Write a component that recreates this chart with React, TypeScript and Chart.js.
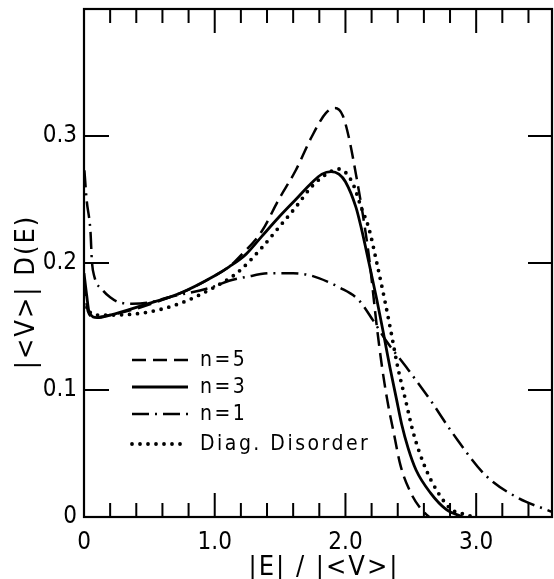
import React, { useEffect, useRef } from 'react';
import { Chart, registerables } from 'chart.js';

Chart.register(...registerables);

// ---- Data ----
const n5X = [0, 0.03, 0.08, 0.2, 0.4, 0.6, 0.8, 1.0, 1.11, 1.2, 1.36, 1.49, 1.62, 1.74, 1.85, 1.92, 1.98, 2.03, 2.08, 2.13, 2.18, 2.24, 2.28, 2.32, 2.37, 2.42, 2.5, 2.58, 2.64];
const n5Y = [0.185, 0.162, 0.157, 0.159, 0.164, 0.171, 0.179, 0.19, 0.197, 0.206, 0.225, 0.25, 0.273, 0.299, 0.318, 0.322, 0.316, 0.297, 0.27, 0.24, 0.205, 0.15, 0.118, 0.092, 0.066, 0.041, 0.019, 0.006, 0.0];

const n3X = [0, 0.02, 0.04, 0.1, 0.2, 0.46, 0.73, 1.0, 1.11, 1.24, 1.36, 1.49, 1.62, 1.74, 1.82, 1.89, 1.95, 2.0, 2.08, 2.12, 2.18, 2.24, 2.29, 2.34, 2.39, 2.43, 2.48, 2.54, 2.65, 2.77, 2.9];
const n3Y = [0.192, 0.175, 0.161, 0.157, 0.159, 0.167, 0.176, 0.19, 0.197, 0.207, 0.221, 0.236, 0.25, 0.263, 0.27, 0.272, 0.27, 0.264, 0.244, 0.228, 0.2, 0.171, 0.145, 0.118, 0.093, 0.073, 0.054, 0.037, 0.019, 0.006, 0.0];

const n1X = [0.003, 0.02, 0.05, 0.06, 0.08, 0.14, 0.2, 0.27, 0.37, 0.5, 0.65, 0.98, 1.11, 1.24, 1.44, 1.6, 1.74, 1.87, 1.95, 2.1, 2.21, 2.31, 2.48, 2.65, 2.82, 3.07, 3.32, 3.53, 3.58];
const n1Y = [0.273, 0.25, 0.224, 0.202, 0.189, 0.179, 0.173, 0.169, 0.168, 0.169, 0.173, 0.181, 0.186, 0.189, 0.192, 0.192, 0.19, 0.185, 0.181, 0.171, 0.155, 0.139, 0.116, 0.092, 0.066, 0.033, 0.015, 0.006, 0.004];

const diagX = [0, 0.09, 0.2, 0.47, 0.73, 0.98, 1.18, 1.36, 1.49, 1.62, 1.74, 1.87, 1.95, 2.05, 2.12, 2.18, 2.24, 2.3, 2.35, 2.4, 2.46, 2.52, 2.61, 2.71, 2.81, 2.92, 2.98];
const diagY = [0.165, 0.159, 0.159, 0.161, 0.168, 0.18, 0.193, 0.212, 0.228, 0.244, 0.26, 0.271, 0.274, 0.264, 0.244, 0.227, 0.2, 0.171, 0.145, 0.118, 0.092, 0.066, 0.039, 0.019, 0.006, 0.002, 0.0];

const seriesLabels = ['n=5', 'n=3', 'n=1', 'Diag. Disorder'];

const xTickValues = [0, 1, 2, 3];
const xTickLabels = ['0', '1.0', '2.0', '3.0'];
const yTickValues = [0, 0.1, 0.2, 0.3];
const yTickLabels = ['0', '0.1', '0.2', '0.3'];
const xMinorStep = 0.2;

const xTitle = '|E| / |<V>|';
const yTitle = '|<V>| D(E)';

// ---- Styles ----
const FONT = "'Liberation Sans Narrow', 'DejaVu Sans Condensed', 'Liberation Sans', sans-serif";
const INK = '#000';
const dashStyles = [
  { dash: [14, 7], cap: 'butt', width: 2.5 },
  { dash: [], cap: 'butt', width: 2.8 },
  { dash: [17, 6, 2, 6], cap: 'butt', width: 2.5 },
  { dash: [0, 8], cap: 'round', width: 3.8 },
];

const pts = (xs: number[], ys: number[]) => xs.map((x, i) => ({ x, y: ys[i] }));

const framePlugin = {
  id: 'frameAndDecor',
  afterDraw(chart: any) {
    const { ctx, chartArea: ca, scales } = chart;
    const xs = scales.x;
    const ys = scales.y;
    ctx.save();
    ctx.strokeStyle = INK;
    ctx.fillStyle = INK;
    ctx.setLineDash([]);
    // frame
    ctx.lineWidth = 2.2;
    ctx.strokeRect(ca.left, ca.top, ca.right - ca.left, ca.bottom - ca.top);
    // x ticks (bottom & top), inward
    ctx.lineWidth = 2;
    const xMax = xs.max;
    for (let k = 0; k * xMinorStep <= xMax + 1e-9; k++) {
      const v = k * xMinorStep;
      const major = Math.abs(v - Math.round(v)) < 1e-6;
      const px = xs.getPixelForValue(v);
      const len = major ? 24 : 14;
      ctx.beginPath();
      ctx.moveTo(px, ca.bottom);
      ctx.lineTo(px, ca.bottom - len);
      ctx.moveTo(px, ca.top);
      ctx.lineTo(px, ca.top + len);
      ctx.stroke();
    }
    // y ticks (left & right), inward
    for (const v of yTickValues) {
      const py = ys.getPixelForValue(v);
      ctx.beginPath();
      ctx.moveTo(ca.left, py);
      ctx.lineTo(ca.left + 25, py);
      ctx.moveTo(ca.right, py);
      ctx.lineTo(ca.right - 24, py);
      ctx.stroke();
    }
    // axis titles
    ctx.font = `27px ${FONT}`;
    (ctx as any).letterSpacing = '2px';
    ctx.textAlign = 'center';
    ctx.textBaseline = 'middle';
    ctx.fillText(xTitle, ca.left + 240, ca.bottom + 51);
    ctx.save();
    ctx.translate(27, ca.top + 283);
    ctx.rotate(-Math.PI / 2);
    ctx.fillText(yTitle, 0, 0);
    ctx.restore();

    // legend
    ctx.font = `21px ${FONT}`;
    (ctx as any).letterSpacing = '2.5px';
    ctx.textAlign = 'left';
    ctx.textBaseline = 'middle';
    const rows = [351, 378, 405, 435];
    seriesLabels.forEach((lab, i) => {
      const y = ca.top + rows[i];
      const st = dashStyles[i];
      ctx.save();
      ctx.lineWidth = st.width;
      ctx.lineCap = st.cap as CanvasLineCap;
      ctx.setLineDash(st.dash);
      ctx.beginPath();
      ctx.moveTo(ca.left + 48, y);
      ctx.lineTo(ca.left + 104, y);
      ctx.stroke();
      ctx.restore();
      ctx.fillText(lab, ca.left + 116, y + 1);
    });
    ctx.restore();
  },
};

export default function App() {
  const ref = useRef<HTMLCanvasElement | null>(null);

  useEffect(() => {
    document.body.style.margin = '0';
    const canvas = ref.current;
    if (!canvas) return;
    const data = [pts(n5X, n5Y), pts(n3X, n3Y), pts(n1X, n1Y), pts(diagX, diagY)];
    const chart = new Chart(canvas, {
      type: 'line',
      data: {
        datasets: data.map((d, i) => ({
          label: seriesLabels[i],
          data: d,
          borderColor: INK,
          backgroundColor: INK,
          borderWidth: dashStyles[i].width,
          borderDash: dashStyles[i].dash,
          borderCapStyle: dashStyles[i].cap as any,
          pointRadius: 0,
          fill: false,
          cubicInterpolationMode: 'monotone' as const,
        })),
      },
      options: {
        animation: false,
        responsive: false,
        devicePixelRatio: 1,
        layout: { padding: { top: 9, right: 2, left: 0, bottom: 0 } },
        plugins: {
          legend: { display: false },
          tooltip: { enabled: false },
          title: { display: false },
        },
        scales: {
          x: {
            type: 'linear',
            min: 0,
            max: 3.58,
            grid: { display: false, drawTicks: false },
            border: { display: false },
            afterBuildTicks: (axis: any) => {
              axis.ticks = xTickValues.map((v) => ({ value: v }));
            },
            afterFit: (s: any) => {
              s.height = 62;
              s.paddingLeft = 0;
              s.paddingRight = 0;
            },
            ticks: {
              autoSkip: false,
              maxRotation: 0,
              padding: 11,
              color: INK,
              font: { family: FONT, size: 24 },
              callback: (v: any) => xTickLabels[xTickValues.indexOf(Number(v))] ?? '',
            },
          },
          y: {
            type: 'linear',
            min: 0,
            max: 0.4,
            grid: { display: false, drawTicks: false },
            border: { display: false },
            afterBuildTicks: (axis: any) => {
              axis.ticks = yTickValues.map((v) => ({ value: v }));
            },
            afterFit: (s: any) => {
              s.width = 84;
              s.paddingTop = 0;
              s.paddingBottom = 0;
            },
            ticks: {
              autoSkip: false,
              padding: 7,
              color: INK,
              font: { family: FONT, size: 24 },
              callback: (v: any) => {
                const idx = yTickValues.findIndex((t) => Math.abs(t - Number(v)) < 1e-9);
                return idx >= 0 ? yTickLabels[idx] : '';
              },
            },
          },
        },
      },
      plugins: [framePlugin],
    });
    return () => chart.destroy();
  }, []);

  return (
    <div style={{ position: 'absolute', left: 0, top: 0, width: 554, height: 579, background: '#fff' }}>
      <canvas ref={ref} width={554} height={579} style={{ display: 'block' }} />
    </div>
  );
}
